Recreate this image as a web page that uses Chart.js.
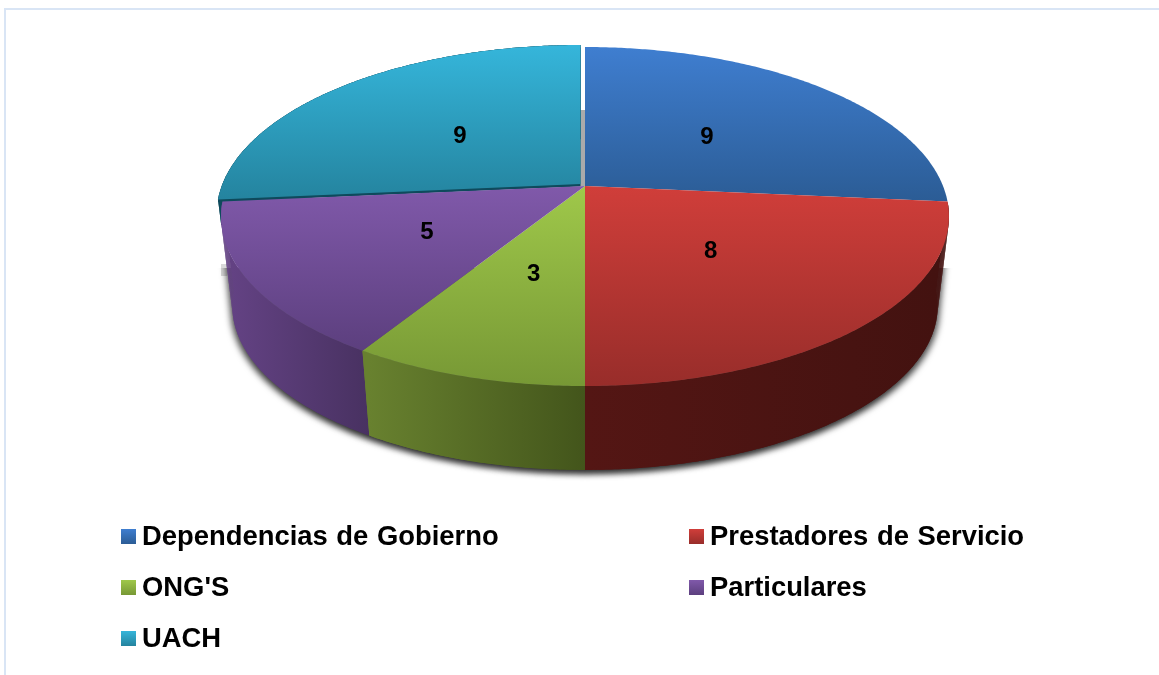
<!DOCTYPE html>
<html>
<head>
<meta charset="utf-8">
<style>
  html, body { margin: 0; padding: 0; background: #fff; overflow: hidden; }
  canvas { display: block; }
</style>
<script src="https://cdn.jsdelivr.net/npm/chart.js@4/dist/chart.umd.min.js"></script>
</head>
<body>
<canvas id="myChart" width="1159" height="675"></canvas>
<script>
var categories = ["Dependencias de Gobierno", "Prestadores de Servicio", "ONG'S", "Particulares", "UACH"];
var values = [9, 8, 3, 5, 9];

var topStart = ["#3f7ed0", "#d03e3a", "#9fc84a", "#8059aa", "#35b5da"];
var topEnd = ["#2b5c95", "#982d2a", "#779835", "#5c3f7e", "#24839e"];
var wallStart = ["#2b5c95", "#541614", "#68812f", "#634283", "#0e4a5c"];
var wallEnd = ["#2b5c95", "#431210", "#43551b", "#483161", "#0e4a5c"];

// where each label goes relative to the middle of its slice
var labelShift = [[2, 0], [2, 2], [0, 4], [-5, 2], [-5, -1]];
// legend grid
var legendCols = [121, 689];
var legendRows = [545, 596, 647];

// the pie is seen in perspective: disc centre is not the ellipse centre
var view = { cx: 585, cy: 186, a: 358, b: 164, k: -0.18 };
var base = { cx: 585, cy: 276, a: 347, b: 159, k: -0.18 };
var explode = [[0, 0], [0, 0], [0, 0], [0, 0], [-4.5, -2]];

function project(p, f, angle) {
  var u = f * Math.cos(angle), v = f * Math.sin(angle);
  var w = 1 + p.k * v;
  return { x: p.cx + p.a * u / w, y: p.cy + p.b * v / w };
}

function angleSteps(a0, a1) {
  var n = Math.max(2, Math.ceil((a1 - a0) / 0.01)), out = [];
  for (var i = 0; i <= n; i++) out.push(a0 + (a1 - a0) * i / n);
  return out;
}

function drawWall(ctx, arc, i) {
  var off = explode[i];
  var steps = angleSteps(arc.startAngle, arc.endAngle);
  var xs = steps.map(s => project(base, 1, s).x);
  var g = ctx.createLinearGradient(Math.min(...xs), 0, Math.max(...xs), 0);
  g.addColorStop(0, wallStart[i]);
  g.addColorStop(1, wallEnd[i]);
  ctx.fillStyle = g;

  // whole band first so the small quads leave no seams
  ctx.beginPath();
  steps.forEach(function (s) {
    var t = project(view, 1, s);
    ctx.lineTo(t.x + off[0], t.y + off[1]);
  });
  steps.slice().reverse().forEach(function (s) {
    var b = project(base, 1, s);
    ctx.lineTo(b.x + off[0], b.y + off[1]);
  });
  ctx.closePath();
  ctx.fill();

  // quads fill in the straight silhouette at the sides
  for (var s = 0; s < steps.length - 1; s++) {
    var t0 = project(view, 1, steps[s]), t1 = project(view, 1, steps[s + 1]);
    var b0 = project(base, 1, steps[s]), b1 = project(base, 1, steps[s + 1]);
    ctx.beginPath();
    ctx.moveTo(t0.x + off[0], t0.y + off[1]);
    ctx.lineTo(t1.x + off[0], t1.y + off[1]);
    ctx.lineTo(b1.x + off[0], b1.y + off[1]);
    ctx.lineTo(b0.x + off[0], b0.y + off[1]);
    ctx.closePath();
    ctx.fill();
  }
}

function drawTop(ctx, arc, i, dx, dy, fill) {
  var steps = angleSteps(arc.startAngle, arc.endAngle);
  var pts = steps.map(s => project(view, 1, s));
  ctx.beginPath();
  ctx.moveTo(view.cx + dx, view.cy + dy);
  pts.forEach(p => ctx.lineTo(p.x + dx, p.y + dy));
  ctx.closePath();
  if (!fill) {
    var ys = pts.map(p => p.y).concat(view.cy);
    fill = ctx.createLinearGradient(0, Math.min(...ys), 0, Math.max(...ys));
    fill.addColorStop(0, topStart[i]);
    fill.addColorStop(1, topEnd[i]);
  }
  ctx.fillStyle = fill;
  ctx.fill();
}

function drawShadow(ctx, chart) {
  ctx.save();
  ctx.fillStyle = "rgba(170,170,170,0.45)";
  ctx.fillRect(221, 264, 6, 12);
  ctx.beginPath();
  ctx.rect(0, 268, chart.width, 260);
  ctx.clip();
  ctx.shadowColor = "rgba(0,0,0,0.6)";
  ctx.shadowBlur = 6;
  ctx.shadowOffsetY = 4;
  ctx.fillStyle = "#555";
  ctx.beginPath();
  var p = project(view, 0.998, 0.33);
  ctx.moveTo(p.x, p.y);
  angleSteps(0.25, Math.PI - 0.25).forEach(function (s) {
    var q = project(base, 0.998, s);
    ctx.lineTo(q.x, q.y);
  });
  p = project(view, 0.998, Math.PI - 0.33);
  ctx.lineTo(p.x, p.y);
  ctx.closePath();
  [-3, 3].forEach(function (dx) {
    ctx.shadowOffsetX = dx;
    ctx.fill();
  });
  ctx.restore();
}

var pie3d = {
  id: "pie3d",
  beforeDraw(chart) {
    var ctx = chart.ctx;
    ctx.fillStyle = "#fff";
    ctx.fillRect(0, 0, chart.width, chart.height);
    ctx.fillStyle = "#d9e5f5";
    ctx.fillRect(4, 8, 2, chart.height - 8);
    ctx.fillRect(4, 8, chart.width - 4, 2);
  },
  beforeDatasetsDraw(chart) {
    var ctx = chart.ctx;
    var arcs = chart.getDatasetMeta(0).data;
    var wallOrder = [4, 3, 2, 1];

    drawShadow(ctx, chart);

    // grey seen through the gap of the pulled out slice
    ctx.fillStyle = "#aaaaaa";
    ctx.fillRect(view.cx - 5, 110, 5, view.cy - 110);

    wallOrder.forEach(function (i) {
      ctx.save();
      if (i === 4) {
        ctx.beginPath();
        ctx.rect(0, 0, chart.width, 225);
        ctx.clip();
        drawTop(ctx, arcs[i], i, explode[i][0], 0.5, wallStart[i]);
      }
      drawWall(ctx, arcs[i], i);
      ctx.restore();
    });

    drawTop(ctx, arcs[4], 4, explode[4][0], explode[4][1]);
    [0, 1, 2, 3].forEach(i => drawTop(ctx, arcs[i], i, 0, 0));

    // value labels at the middle of each slice
    ctx.fillStyle = "#000";
    ctx.font = "bold 24px 'Liberation Sans', Arial, sans-serif";
    ctx.textAlign = "center";
    ctx.textBaseline = "alphabetic";
    arcs.forEach(function (arc, i) {
      var p = project(view, 0.48, (arc.startAngle + arc.endAngle) / 2);
      ctx.fillText(String(values[i]), p.x + labelShift[i][0], p.y + labelShift[i][1] + 8);
    });

    // legend laid out in two columns
    ctx.font = "bold 27.4px 'Liberation Sans', Arial, sans-serif";
    ctx.wordSpacing = "1px";
    ctx.textAlign = "left";
    categories.forEach(function (name, i) {
      var x = legendCols[i % 2], y = legendRows[Math.floor(i / 2)];
      var g = ctx.createLinearGradient(0, y - 16, 0, y - 1);
      g.addColorStop(0, topStart[i]);
      g.addColorStop(1, topEnd[i]);
      ctx.fillStyle = g;
      ctx.fillRect(x, y - 16, 15, 15);
      ctx.fillStyle = "#000";
      ctx.fillText(name, x + 21, y);
    });
    ctx.wordSpacing = "0px";
    return false;
  }
};

new Chart("myChart", {
  type: "pie",
  data: {
    labels: categories,
    datasets: [{
      data: values,
      backgroundColor: topStart
    }]
  },
  options: {
    responsive: false,
    animation: false,
    plugins: {
      legend: { display: false },
      tooltip: { enabled: false }
    }
  },
  plugins: [pie3d]
});
</script>
</body>
</html>
